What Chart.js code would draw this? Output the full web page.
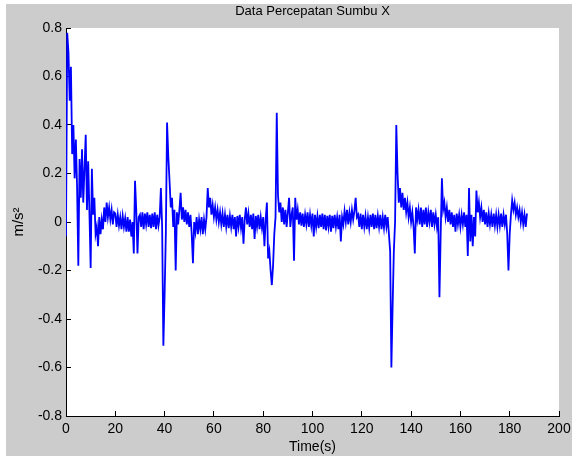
<!DOCTYPE html>
<html>
<head>
<meta charset="utf-8">
<title>Data Percepatan Sumbu X</title>
<script src="https://cdn.jsdelivr.net/npm/chart.js@4.4.0/dist/chart.umd.min.js"></script>
<style>
  html, body { margin: 0; padding: 0; background: #ffffff; }
  #wrap { position: absolute; left: 6px; top: 4px; width: 566px; height: 452px; background: #cccccc; }
  canvas { display: block; }
</style>
</head>
<body>
<div id="wrap"><canvas id="accel-x" width="566" height="452"></canvas></div>
<script>
// acceleration samples, one every half second
const sampleStep = 0.5;
const accelX = [
  -0.06, 0.78, 0.70, 0.50, 0.64, 0.28, 0.40, 0.18, 0.34, 0.14,
  -0.18, 0.26, 0.10, 0.30, 0.08, 0.22, 0.36, 0.05, 0.25, 0.04,
  -0.19, 0.22, 0.03, 0.10, -0.05, -0.02, -0.10, 0.02, -0.05, 0.01,
  -0.03, 0.06, 0.00, 0.08, 0.02, 0.06, 0.01, 0.05, -0.01, 0.04,
  0.035, -0.02, 0.03, -0.015, 0.02, -0.03, 0.025, -0.02, 0.015, -0.04,
  0.02, -0.04, 0.01, -0.06, 0.00, -0.13, 0.17, 0.05, -0.13, 0.02,
  0.03, -0.02, 0.04, -0.03, 0.035, -0.01, 0.04, -0.02, 0.03, -0.025,
  0.035, -0.02, 0.04, -0.03, 0.03, -0.015, 0.02, 0.14, -0.02, -0.51,
  -0.30, -0.05, 0.41, 0.27, 0.17, 0.06, 0.10, -0.02, 0.05, -0.20,
  0.04, -0.01, 0.05, 0.12, 0.01, 0.06, 0.00, 0.05, -0.01, 0.04,
  -0.02, 0.03, -0.05, -0.17, 0.00, -0.04, 0.02, -0.05, 0.01, -0.03,
  0.02, -0.05, 0.01, -0.03, 0.02, 0.14, 0.06, 0.10, 0.03, 0.07,
  0.02, 0.06, 0.01, 0.05, 0.00, 0.04, -0.01, 0.035, -0.02, 0.03,
  -0.02, 0.03, -0.025, 0.025, -0.02, 0.03, -0.03, 0.02, -0.06, 0.025,
  -0.02, 0.03, -0.025, 0.02, -0.09, 0.01, 0.06, -0.01, 0.035, -0.02,
  0.03, -0.03, 0.035, -0.07, 0.025, -0.02, 0.03, -0.03, 0.02, -0.025,
  0.02, -0.10, 0.01, 0.08, -0.15, -0.12, -0.20, -0.26, -0.18, -0.05,
  0.02, 0.45, 0.11, 0.04, 0.08, 0.00, 0.06, -0.01, 0.05, -0.02,
  0.04, 0.10, -0.02, 0.03, 0.06, -0.16, 0.10, 0.01, 0.05, -0.01,
  0.04, -0.015, 0.035, -0.02, 0.03, -0.01, 0.04, -0.02, 0.03, -0.015,
  0.035, -0.06, 0.03, -0.02, 0.025, -0.025, 0.03, -0.02, 0.035, -0.03,
  0.03, -0.035, 0.025, -0.02, 0.03, -0.04, 0.025, -0.025, 0.03, -0.02,
  0.02, -0.03, 0.03, -0.08, 0.02, -0.01, 0.045, 0.00, 0.05, -0.01,
  0.04, 0.00, 0.05, 0.01, 0.045, 0.10, 0.02, 0.03, -0.02, 0.035,
  -0.03, 0.03, -0.02, 0.025, -0.03, 0.02, -0.025, 0.03, -0.02, 0.035,
  -0.03, 0.03, -0.025, 0.025, -0.02, 0.03, -0.03, 0.02, -0.025, 0.03,
  -0.02, 0.02, -0.05, -0.12, -0.60, -0.35, -0.12, 0.00, 0.40, 0.20,
  0.08, 0.14, 0.06, 0.12, 0.05, 0.10, 0.04, 0.08, 0.02, 0.06,
  0.00, 0.04, -0.02, -0.13, 0.06, 0.01, 0.05, -0.01, 0.06, -0.02,
  0.05, -0.01, 0.06, -0.02, 0.04, 0.00, 0.05, -0.02, 0.04, -0.01,
  0.03, -0.02, 0.02, -0.31, -0.05, 0.18, 0.05, 0.08, 0.02, 0.06,
  0.00, 0.05, -0.01, 0.04, -0.02, 0.03, -0.04, 0.035, -0.01, 0.03,
  -0.02, 0.03, -0.01, 0.04, -0.02, 0.03, -0.14, 0.14, -0.08, 0.03,
  -0.10, 0.02, -0.06, 0.13, 0.04, 0.08, 0.02, 0.06, 0.00, 0.05,
  -0.01, 0.04, -0.02, 0.035, -0.01, 0.03, -0.02, 0.035, -0.015, 0.03,
  -0.02, 0.03, -0.015, 0.035, -0.02, 0.03, -0.01, 0.03, -0.05, -0.20,
  -0.05, 0.03, 0.09, 0.05, 0.08, 0.03, 0.06, 0.02, 0.05, 0.00,
  0.04, -0.01, 0.03, -0.02, 0.035
];

const chartTitle = 'Data Percepatan Sumbu X';
const xLabel = 'Time(s)';
const yLabel = 'm/s\u00B2';
const xTicks = [0, 20, 40, 60, 80, 100, 120, 140, 160, 180, 200];
const yTicks = [-0.8, -0.6, -0.4, -0.2, 0, 0.2, 0.4, 0.6, 0.8];

const points = accelX.map((v, i) => ({ x: i * sampleStep, y: v }));

const FONT = '"Liberation Sans", Arial, sans-serif';

// white axes box behind the trace
const plotBackground = {
  id: 'plotBackground',
  beforeDraw(chart) {
    const { ctx, chartArea } = chart;
    ctx.save();
    ctx.fillStyle = '#ffffff';
    ctx.fillRect(chartArea.left, chartArea.top,
      chartArea.right - chartArea.left, chartArea.bottom - chartArea.top);
    ctx.restore();
  }
};

const ctx = document.getElementById('accel-x').getContext('2d');
new Chart(ctx, {
  type: 'line',
  data: {
    datasets: [{
      data: points,
      borderColor: '#0000ff',
      borderWidth: 1.8,
      pointRadius: 0,
      tension: 0,
      fill: false
    }]
  },
  options: {
    responsive: false,
    animation: false,
    layout: { padding: { right: 13, top: 0, left: 0, bottom: 0 } },
    plugins: {
      legend: { display: false },
      tooltip: { enabled: false },
      title: {
        display: true,
        fullSize: false,
        text: chartTitle,
        color: '#000000',
        font: { family: FONT, size: 13, weight: 'normal' },
        padding: { top: 0, bottom: 8.4 }
      }
    },
    scales: {
      x: {
        type: 'linear',
        min: 0,
        max: 200,
        afterBuildTicks(scale) { scale.ticks = xTicks.map(v => ({ value: v })); },
        afterFit(scale) {
          scale.height = 40;
          scale.paddingLeft = 0;
          scale.paddingRight = 0;
        },
        grid: { drawOnChartArea: false, tickLength: -5, color: '#000000', lineWidth: 1 },
        border: { display: true, color: '#000000', width: 1 },
        ticks: {
          color: '#000000',
          padding: 10,
          maxRotation: 0,
          font: { family: FONT, size: 14 },
          callback: (v) => String(v)
        },
        title: {
          display: true,
          text: xLabel,
          color: '#000000',
          font: { family: FONT, size: 14 },
          padding: { top: 0, bottom: 0 }
        }
      },
      y: {
        min: -0.8,
        max: 0.8,
        afterBuildTicks(scale) { scale.ticks = yTicks.map(v => ({ value: v })); },
        afterFit(scale) {
          scale.width = 60;
          scale.paddingTop = 0;
          scale.paddingBottom = 0;
        },
        grid: { drawOnChartArea: false, tickLength: -5, color: '#000000', lineWidth: 1 },
        border: { display: true, color: '#000000', width: 1 },
        ticks: {
          color: '#000000',
          padding: 9,
          font: { family: FONT, size: 14 },
          callback: (v) => String(Math.round(v * 10) / 10)
        },
        title: {
          display: true,
          text: yLabel,
          color: '#000000',
          font: { family: FONT, size: 15 },
          padding: { top: 4, bottom: 4 }
        }
      }
    }
  },
  plugins: [plotBackground]
});
</script>
</body>
</html>
